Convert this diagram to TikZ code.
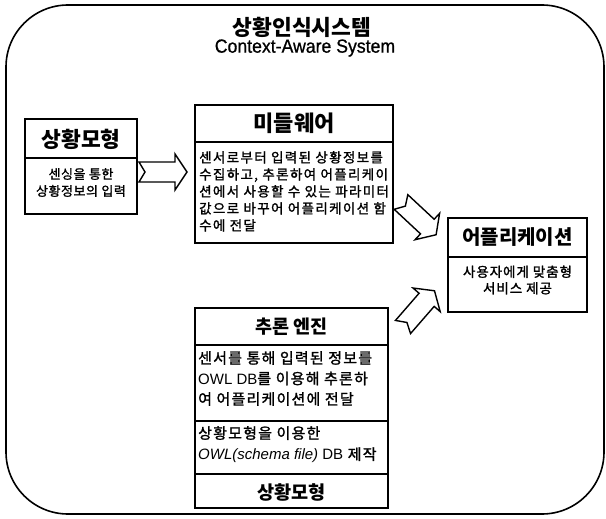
\documentclass[tikz,border=0pt]{standalone}
\usepackage{fontspec}
\setmainfont{Noto Sans CJK KR}
\newfontfamily\kb{Noto Sans CJK KR}[FakeBold=1.5]
\newfontfamily\lat{Liberation Sans}
\newfontfamily\latb{Liberation Sans}[FakeBold=0.8, FakeStretch=0.93]
\begin{document}
\begin{tikzpicture}[x=1pt,y=-1pt,
  frame/.style={line width=1.6pt, rounded corners=62pt},
  boxframe/.style={draw, line width=2pt, inner sep=0pt},
  divider/.style={line width=1.4pt},
  ttl/.style={inner sep=0pt, font=\bfseries\fontsize{19}{22}\selectfont},
  bodyc/.style={inner sep=0pt, align=center},
  bodyl/.style={inner sep=0pt, align=left, anchor=north west},
  blockarrow/.style={draw, line width=1.4pt, fill=white, line join=miter},
  pics/barrow/.style={code={
    \draw[blockarrow] (0,10) -- (36,10) -- (36,18) -- (48,0) -- (36,-18) -- (36,-10)
      -- (0,-10) -- (6,0) -- cycle;}}
]
\useasboundingbox (0,0) rectangle (606,519);
% outer frame
\draw[frame] (6,5) rectangle (604,514);
% title
\node[ttl, font=\bfseries\fontsize{21.5}{24}\selectfont] (sysK) at (302,27) {상황인식시스템};
\node[inner sep=0pt, font=\latb\fontsize{19}{20}\selectfont] (sysE) at (305,48) {Context-Aware System};

% left box: context model
\node[boxframe, minimum width=112pt, minimum height=95pt] (model) at (81,166.5) {};
\draw[divider] (25,158) -- (137,158);
\node[ttl, font=\bfseries\fontsize{21.5}{22}\selectfont] (modelT) at (81,139) {상황모형};
\node[bodyc, font=\kb\fontsize{13}{17}\selectfont\addfontfeature{LetterSpace=4}] (modelB) at (81,182.5) {센싱을 통한\\상황정보의 입력};

% middleware
\node[boxframe, minimum width=198pt, minimum height=138pt] (mw) at (294,174) {};
\draw[divider] (195,142) -- (393,142);
\node[ttl, font=\bfseries\fontsize{22}{22}\selectfont] (mwT) at (294,123) {미들웨어};
\node[bodyl, font=\kb\fontsize{13.5}{17}\selectfont\addfontfeature{LetterSpace=10}] (mwB) at (199,151) {센서로부터 입력된 상황정보를\\수집하고, 추론하여 어플리케이\\션에서 사용할 수 있는 파라미터\\값으로 바꾸어 어플리케이션 함\\수에 전달};

% application
\node[boxframe, minimum width=139pt, minimum height=94pt] (app) at (517.5,265) {};
\draw[divider] (448,257) -- (587,257);
\node[ttl, font=\bfseries\fontsize{20}{22}\selectfont] (appT) at (517.5,237) {어플리케이션};
\node[bodyc, font=\kb\fontsize{13.5}{16.5}\selectfont\addfontfeature{LetterSpace=7}] (appB) at (517.5,280) {사용자에게 맞춤형\\서비스 제공};

% inference engine
\node[boxframe, minimum width=193pt, minimum height=200pt] (eng) at (291.5,408) {};
\draw[divider] (195,345) -- (388,345);
\draw[divider] (195,421) -- (388,421);
\draw[divider] (195,474) -- (388,474);
\node[ttl, font=\bfseries\fontsize{18.5}{22}\selectfont] (engT) at (291.5,327) {추론 엔진};
\node[bodyl, font=\kb\fontsize{15}{20.5}\selectfont\addfontfeature{LetterSpace=8}] (engB) at (198,351) {센서를 통해 입력된 정보를\\{\lat OWL DB}를 이용해 추론하\\여 어플리케이션에 전달};
\node[bodyl, font=\kb\fontsize{15}{21}\selectfont\addfontfeature{LetterSpace=8}] (engC) at (198,426) {상황모형을 이용한\\{\lat\itshape OWL(schema file)}{\lat\ DB} 제작};
\node[ttl, font=\bfseries\fontsize{18.6}{22}\selectfont] (engM) at (291.5,492) {상황모형};

% block arrows
\coordinate (a1) at (139,172);
\coordinate (a2) at (401,202);
\coordinate (a3) at (403,327);
\pic[shift={(a1)}] {barrow};
\pic[shift={(a2)}, rotate=-43] {barrow};
\pic[shift={(a3)}, rotate=49] {barrow};
\end{tikzpicture}
\end{document}
